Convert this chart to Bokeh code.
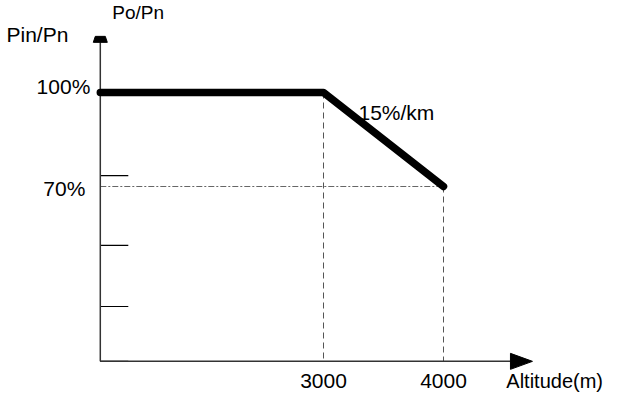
from bokeh.plotting import figure
from bokeh.models import Range1d
from bokeh.core.properties import value
from bokeh.embed import file_html
from bokeh.resources import INLINE

# ---- data (schematic derating curve) ----
altitude_m = [1140, 3000, 4000]      # curve starts at the y-axis origin
power_pct = [100, 100, 70]
x_ticks = [3000, 4000]
x_tick_labels = ["3000", "4000"]
y_ticks = [100, 70]
y_tick_labels = ["100%", "70%"]
y_minor_marks = [73.5, 51.2, 31.7, 14.2]
slope_label = "15%/km"
x_title = "Altitude(m)"
y_title_outer = "Pin/Pn"
y_title_inner = "Po/Pn"

# axis geometry (data units)
x_origin = 1140
y_origin = 14.2
x_axis_end = 4558
y_axis_end = 116.0

W, H = 605, 394
x_range = Range1d(308.33, 5350)
y_range = Range1d(3.62, 129.36)
kx = (x_range.end - x_range.start) / W    # data units per px
ky = (y_range.end - y_range.start) / H

p = figure(width=W, height=H, x_range=x_range, y_range=y_range,
           output_backend="svg", toolbar_location=None,
           x_axis_location=None, y_axis_location=None, min_border=0)
p.grid.visible = False
p.outline_line_color = None
p.background_fill_color = "white"

FONT = value("Liberation Sans")
FS = "21px"

# guide lines
p.segment(x0=x_ticks, y0=power_pct[1:], x1=x_ticks, y1=[y_origin] * len(x_ticks),
          line_color="#555555", line_width=1, line_dash="6 4")
p.segment(x0=[x_origin], y0=[y_ticks[1]], x1=[x_ticks[1]], y1=[y_ticks[1]],
          line_color="#666666", line_width=1, line_dash="6 2 2 2")

# minor marks on y axis
p.segment(x0=[x_origin] * len(y_minor_marks), y0=y_minor_marks,
          x1=[x_origin + 28 * kx] * len(y_minor_marks), y1=y_minor_marks,
          line_color="black", line_width=1.2)

# axes
p.segment(x0=[x_origin, x_origin], y0=[y_origin, y_origin],
          x1=[x_origin, x_axis_end], y1=[y_axis_end, y_origin],
          line_color="#333333", line_width=1.5)
# x arrow head
p.patch([x_axis_end, x_axis_end + 22 * kx, x_axis_end],
        [y_origin + 8 * ky, y_origin, y_origin - 8 * ky], color="black")
# y arrow head (squat)
p.patch([x_origin - 7 * kx, x_origin - 5 * kx, x_origin + 5 * kx, x_origin + 7 * kx],
        [y_axis_end, y_axis_end + 6 * ky, y_axis_end + 6 * ky, y_axis_end], color="black")

# curve
p.line(altitude_m, power_pct, line_color="black", line_width=7.5,
       line_cap="round", line_join="round")

# texts
p.text(x=[x_origin - 10 * kx, x_origin - 15 * kx], y=[y_ticks[0] + 6 * ky, y_ticks[1] - 2 * ky],
       text=y_tick_labels,
       text_font=FONT, text_font_size=FS, text_align="right", text_baseline="middle")
p.text(x=x_ticks, y=[y_origin - 20 * ky] * 2, text=x_tick_labels,
       text_font=FONT, text_font_size=FS, text_align="center", text_baseline="middle")
p.text(x=[x_origin + 406 * kx], y=[y_origin - 20 * ky], text=[x_title],
       text_font=FONT, text_font_size="20px", text_align="left", text_baseline="middle")
p.text(x=[x_ticks[0] + 35 * kx], y=[y_ticks[0] - 20 * ky], text=[slope_label],
       text_font=FONT, text_font_size=FS, text_align="left", text_baseline="middle")
p.text(x=[x_range.start + 6 * kx], y=[y_axis_end + 8 * ky], text=[y_title_outer],
       text_font=FONT, text_font_size=FS, text_align="left", text_baseline="middle")
p.text(x=[x_origin + 12 * kx], y=[y_axis_end + 30 * ky], text=[y_title_inner],
       text_font=FONT, text_font_size="19px", text_align="left", text_baseline="middle")

open("out.html", "w").write(file_html(p, INLINE))
